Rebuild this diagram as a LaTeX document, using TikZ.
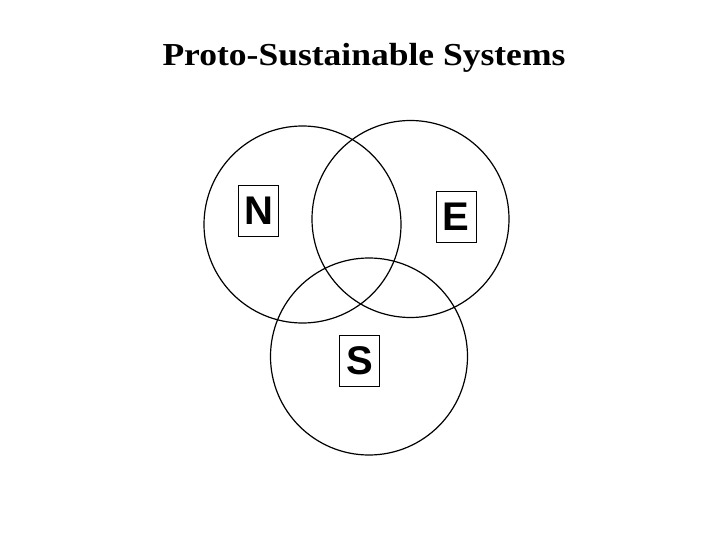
\documentclass[tikz,border=0pt]{standalone}
\usepackage{fontspec}
\setmainfont{Liberation Serif}
\newfontfamily\headfont[FakeStretch=1.11]{Liberation Serif}
\newfontfamily\labelfont{Liberation Sans}

\begin{document}
\begin{tikzpicture}
	[
	x=1pt, y=-1pt,
	set/.style={draw, circle, line width=1.2pt, minimum size=197pt, inner sep=0pt},
	tag/.style={draw, line width=0.8pt, minimum width=40pt, minimum height=51pt, inner sep=0pt,
		font=\labelfont\bfseries\fontsize{40}{40}\selectfont},
	heading/.style={anchor=base, font=\headfont\bfseries\fontsize{32}{32}\selectfont},
	]
		\useasboundingbox (0,0) rectangle (720,540);
		
		% title
		\node[heading] (head) at 	(364.0,  66.0 ) {Proto-Sustainable Systems};
		
		% circles
		\node[set] (nset) at 		(302.5, 224.5 ) {};
		\node[set] (eset) at 		(410.5, 219.0 ) {};
		\node[set] (sset) at 		(369.0, 356.5 ) {};
		
		% labels
		\node[tag] (ntag) at 		(258.5, 210.5 ) {N};
		\node[tag] (etag) at 		(456.0, 216.5 ) {E};
		\node[tag] (stag) at 		(359.5, 361.0 ) {S};
		
	\end{tikzpicture}
\end{document}
